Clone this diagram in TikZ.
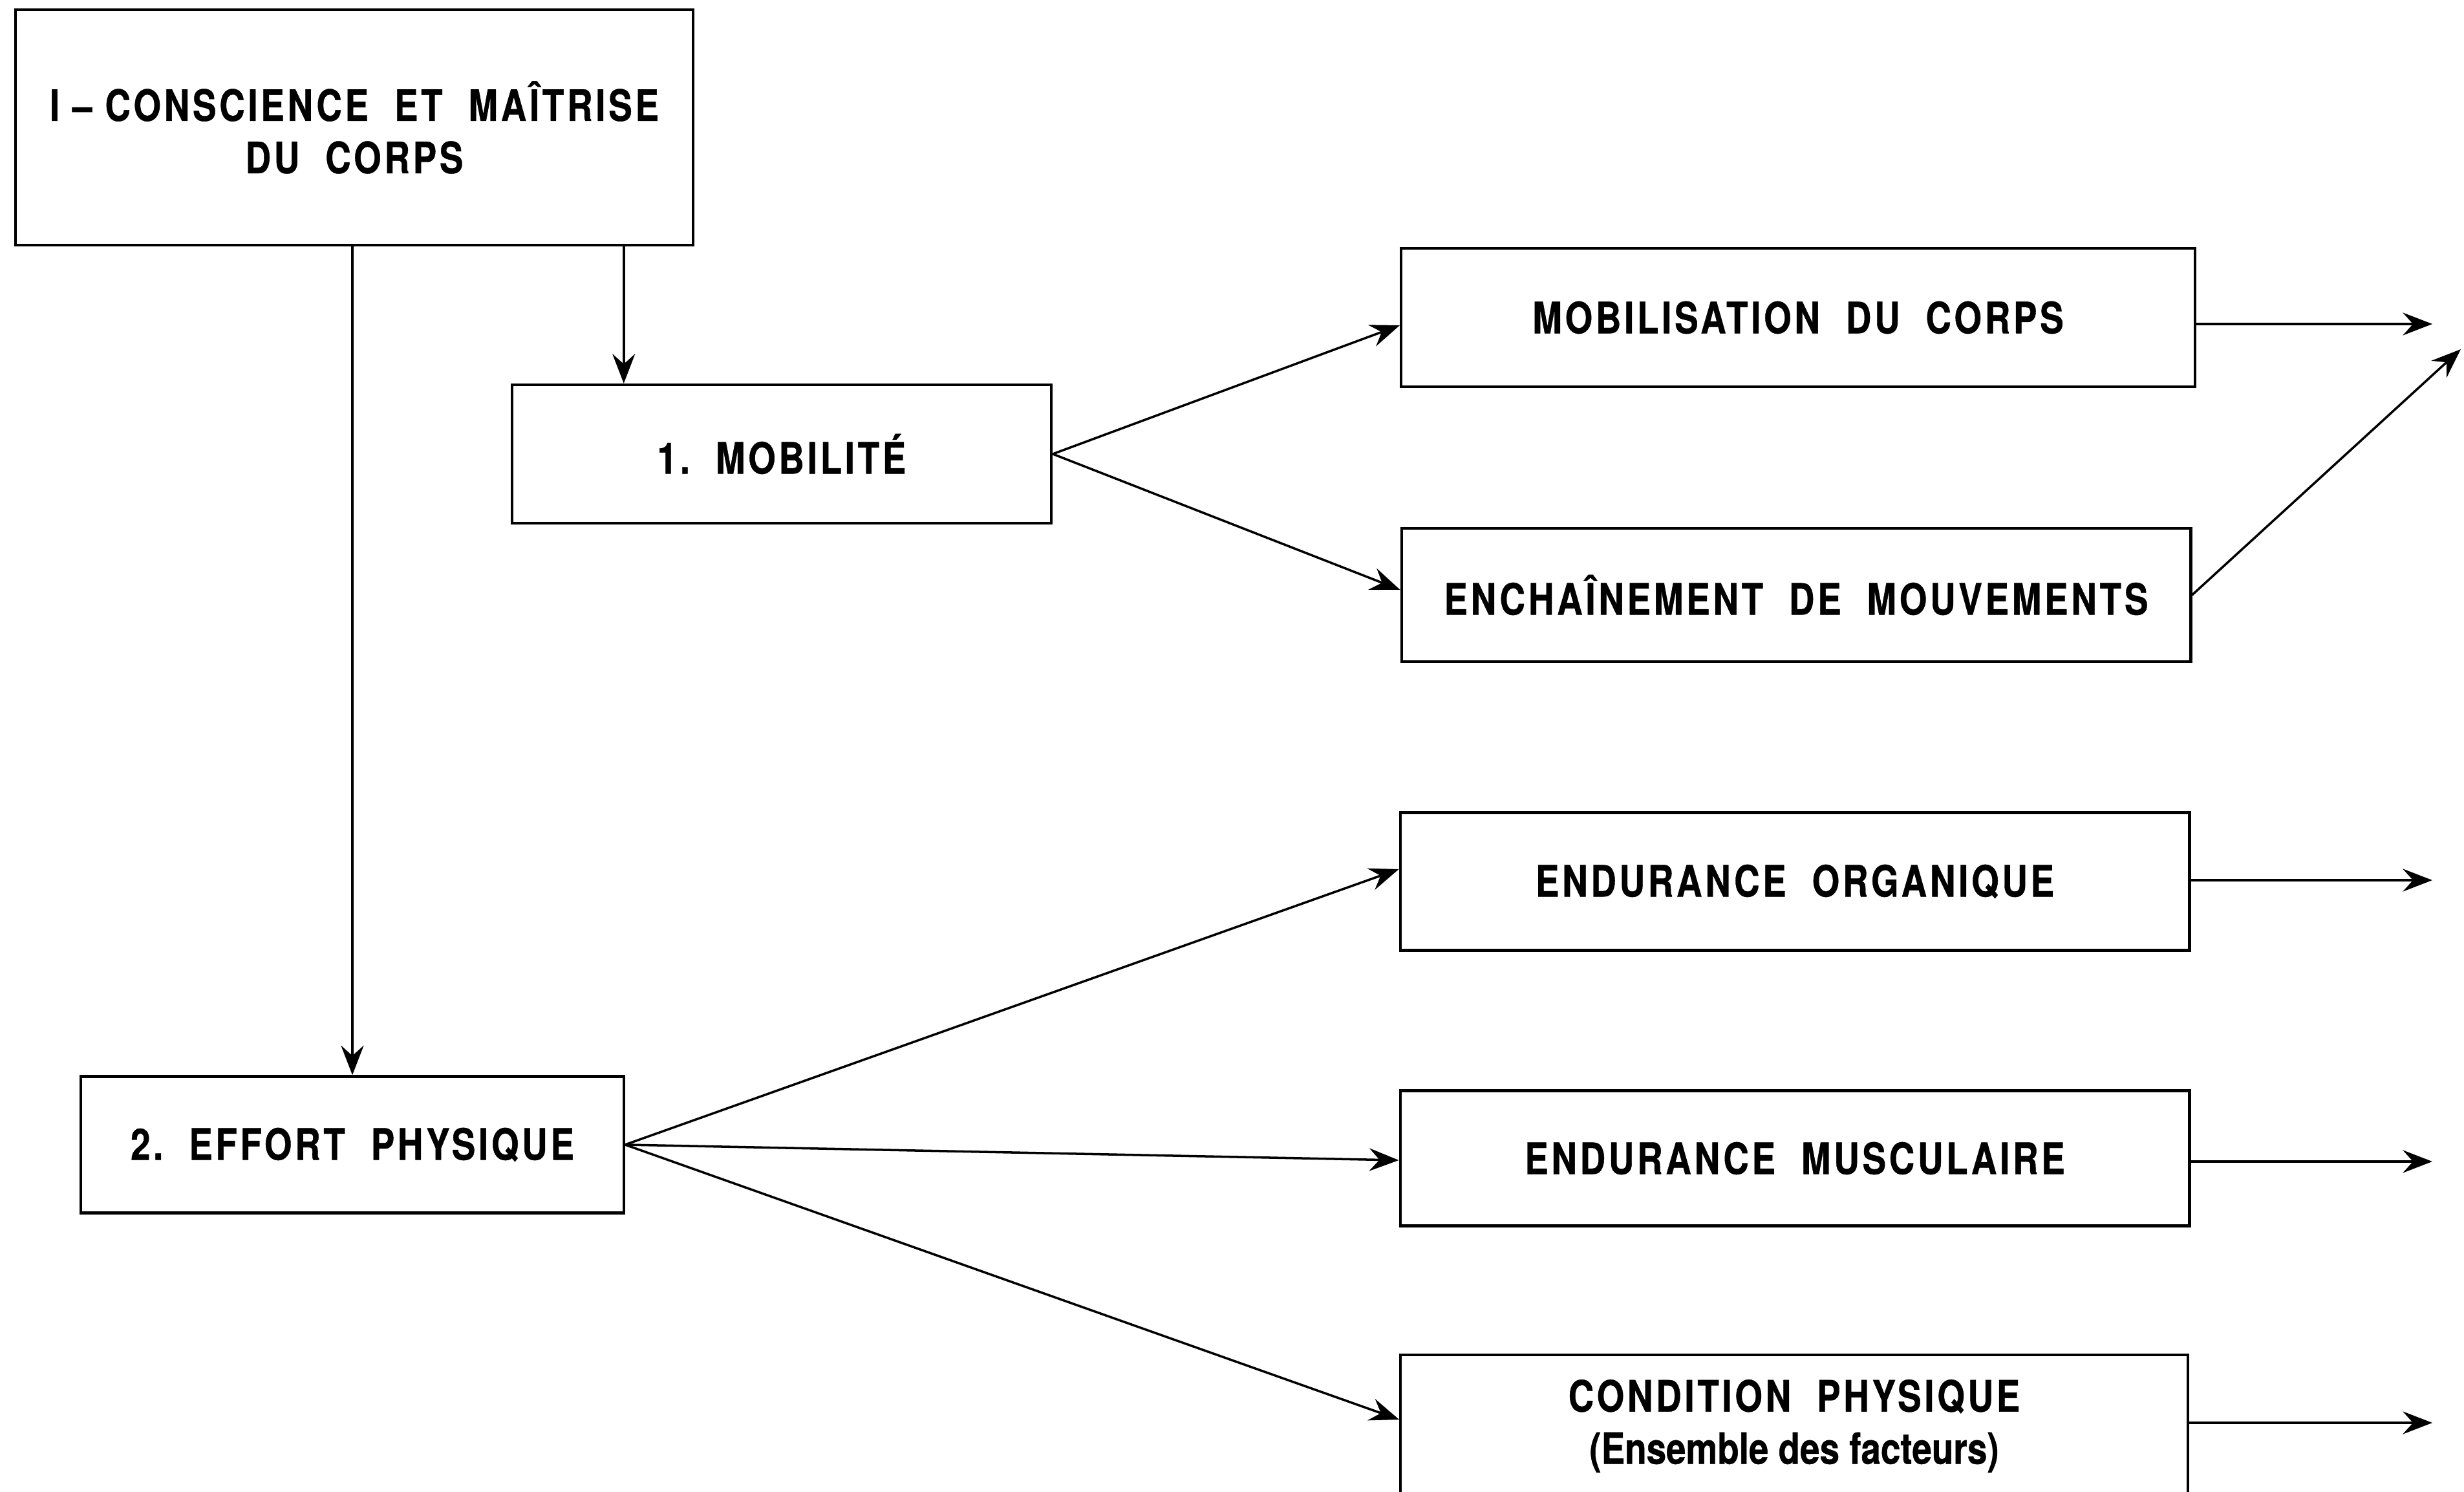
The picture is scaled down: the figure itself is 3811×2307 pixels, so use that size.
\documentclass[tikz,border=0pt]{standalone}
\usepackage{fontspec}
\setmainfont{TeX Gyre Heros}[FakeStretch=0.82, LetterSpace=7, FakeBold=0.6]
\usetikzlibrary{arrows.meta}
\begin{document}
\begin{tikzpicture}[x=0.01cm, y=-0.01cm,
  box/.style={draw, line width=1.2pt, inner sep=0pt, align=center,
    font=\fontsize{19}{23}\selectfont\bfseries},
  arr/.style={line width=1pt,
    -{Stealth[length=13pt, width=10pt, inset=4.5pt]}}]
\useasboundingbox (0,0) rectangle (3811,2307);

% boxes
\node[box, minimum width=10.48cm, minimum height=3.64cm] (top) at (548,197)
  {I -- CONSCIENCE\ \ ET\ \ MAÎTRISE\\DU\ \ CORPS};
\node[box, minimum width=8.34cm, minimum height=2.14cm] (mobi) at (1209,702)
  {1.\ \ MOBILITÉ};
\node[box, minimum width=8.39cm, minimum height=2.11cm] (effort) at (545,1770)
  {2.\ \ EFFORT\ \ PHYSIQUE};
\node[box, minimum width=12.27cm, minimum height=2.14cm] (mobil) at (2781,491)
  {MOBILISATION\ \ DU\ \ CORPS};
\node[box, minimum width=12.20cm, minimum height=2.06cm] (ench) at (2778,920)
  {ENCHAÎNEMENT\ \ DE\ \ MOUVEMENTS};
\node[box, minimum width=12.20cm, minimum height=2.13cm] (endorg) at (2776,1363)
  {ENDURANCE\ \ ORGANIQUE};
\node[box, minimum width=12.20cm, minimum height=2.09cm] (endmus) at (2776,1791)
  {ENDURANCE\ \ MUSCULAIRE};
\node[box, minimum width=12.17cm, minimum height=2.20cm] (cond) at (2775,2205)
  {CONDITION\ \ PHYSIQUE\\{\addfontfeatures{LetterSpace=0}(Ensemble des facteurs)}};

% free ends of the outgoing arrows
\coordinate (o1) at (3762,501);
\coordinate (o2) at (3806,540);
\coordinate (o3) at (3762,1361);
\coordinate (o4) at (3762,1796);
\coordinate (o5) at (3762,2200);

% connectors
\draw[arr] (effort.north |- top.south) -- (effort.north);
\draw[arr] ([xshift=1.75cm]mobi.north west |- top.south) -- ([xshift=1.75cm]mobi.north west);
\draw[arr] (mobi.east) -- ([yshift=-0.12cm]mobil.west);
\draw[arr] (mobi.east) -- ([yshift=0.08cm]ench.west);
\draw[arr] (effort.east) -- ([yshift=0.19cm]endorg.west);
\draw[arr] (effort.east) -- ([yshift=-0.03cm]endmus.west);
\draw[arr] (effort.east) -- ([yshift=0.10cm]cond.west);
\draw[arr] (mobil.east |- o1) -- (o1);
\draw[arr] (ench.east) -- (o2);
\draw[arr] (endorg.east |- o3) -- (o3);
\draw[arr] (endmus.east |- o4) -- (o4);
\draw[arr] (cond.east |- o5) -- (o5);
\end{tikzpicture}
\end{document}
